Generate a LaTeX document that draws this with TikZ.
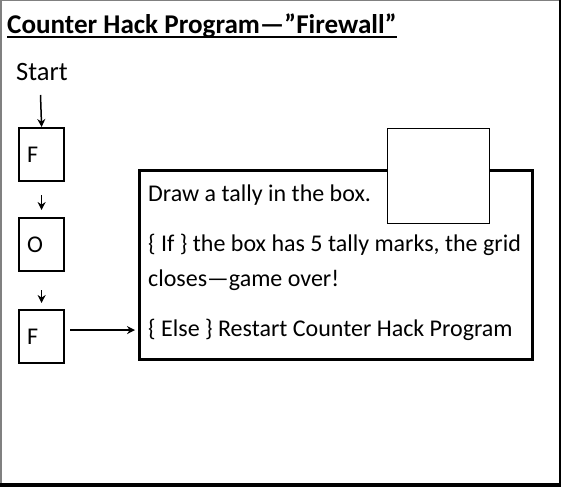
\documentclass[tikz,border=0pt]{standalone}
\usepackage{fontspec}
\setmainfont{Carlito}
\usepackage{tikz}
\usetikzlibrary{positioning,arrows.meta}

\begin{document}
\begin{tikzpicture}[x=1pt,y=-1pt,>={Stealth[length=8pt,width=8pt]},
    letterbox/.style={draw,line width=2.2pt,minimum width=45pt,minimum height=53pt,
      text width=29pt,align=left,inner xsep=8pt,inner ysep=0pt,font=\fontsize{24}{28}\selectfont},
    txt/.style={anchor=base west,inner sep=0pt,font=\fontsize{24}{28}\selectfont}]
%Frame
    \useasboundingbox (0,0) rectangle (561,489);
    \fill[white] (0,0) rectangle (561,489);
    \draw[gray,line width=1.5pt] (0.75,486) -- (0.75,0.5) -- (559,0.5);
    \draw[line width=4pt] (0,484.5) -- (561,484.5);
    \draw[line width=2.4pt] (559.8,0) -- (559.8,486.5);

%Title
    \node[txt,font=\fontsize{27.1}{30}\selectfont\bfseries] (title) at (7,33.3) {Counter Hack Program---''Firewall''};
    \draw[line width=2pt] ([yshift=-3.6pt]title.base west) -- ([yshift=-3.6pt]title.base east);

%Flow
    \node[txt,font=\fontsize{26.5}{30}\selectfont] (start) at (16,81) {Start};
    \node[letterbox,anchor=north west] (f1) at (18,127) {F};
    \node[letterbox,anchor=north west] (o) at (18,217) {O};
    \node[letterbox,anchor=north west] (f2) at (18,309) {F};
    \coordinate (s0) at (40.5,95);
    \draw [->,line width=1.5pt](s0) -- (f1.north);
    \draw [->,line width=1.5pt,shorten <=13pt,shorten >=7pt](f1) -- (o);
    \draw [->,line width=1.5pt,shorten <=18pt,shorten >=6pt](o) -- (f2);

%Program box
    \node[draw,line width=2.6pt,anchor=north west,minimum width=393pt,minimum height=189pt] (prog) at (138,169) {};
    \node[draw,fill=white,line width=1.3pt,anchor=north west,minimum width=102pt,minimum height=95pt] (tally) at (387,128) {};
    \node[txt] (l1) at (148,201.7) {Draw a tally in the box.};
    \node[txt] (l2) at (148,251.7) {\{ If \} the box has 5 tally marks, the grid};
    \node[txt] (l3) at (148,286.7) {closes---game over!};
    \node[txt] (l4) at (148,336.7) {\{ Else \} Restart Counter Hack Program};
    \draw [->,line width=1.5pt,shorten <=5pt,shorten >=3pt](f2.east |- l4.west) -- (prog.west |- l4.west);
\end{tikzpicture}
\end{document}
